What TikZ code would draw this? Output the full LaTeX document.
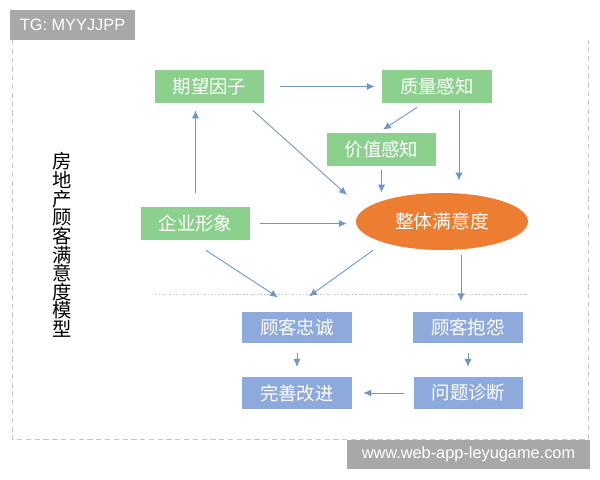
\documentclass[tikz,border=0pt]{standalone}
\usepackage{fontspec}
\setmainfont{Liberation Sans}
\newfontfamily\cjk{Noto Sans CJK SC}
\usetikzlibrary{arrows.meta, calc, shapes.geometric}
\definecolor{boxgreen}{RGB}{140,208,142}
\definecolor{boxblue}{RGB}{142,169,219}
\definecolor{satorange}{RGB}{237,125,49}
\definecolor{arrowblue}{RGB}{112,150,198}
\definecolor{tagGray}{RGB}{168,168,168}
\definecolor{frameGray}{RGB}{200,200,200}

\tikzset{
  gbox/.style={fill=boxgreen, text=white, minimum width=2.2cm, minimum height=0.66cm, inner sep=0pt, font=\cjk\fontsize{10.5}{12}\selectfont},
  bbox/.style={gbox, fill=boxblue, minimum height=0.63cm},
  arr/.style={arrowblue, line width=0.5pt, -{Latex[length=4.5pt,width=4pt]}},
  tag/.style={fill=tagGray, text=white, inner sep=0pt, font=\fontsize{9.3}{11}\selectfont},
}

\begin{document}
\begin{tikzpicture}[x=0.02cm, y=-0.02cm]
    \useasboundingbox (0,0) rectangle (600,480);
    
    \draw[frameGray, line width=0.4pt, dash pattern=on 3pt off 2pt] (12,40) -- (12,439) -- (588,439) -- (588,40);
    \draw[frameGray, line width=0.5pt, dash pattern=on 1pt off 1pt] (155,294) -- (528,294);
    
    \node[tag, minimum width=2.5cm, minimum height=0.6cm] (tg) at (72.5,25) {TG: MYYJJPP};
    \node[tag, minimum width=4.86cm, minimum height=0.58cm] (site) at (468.5,454.5) {www.web-app-leyugame.com};
    
    \node[font=\cjk\fontsize{11}{10.6}\selectfont, align=center, inner sep=0pt] (title) at (62.5,245) {房\\地\\产\\顾\\客\\满\\意\\度\\模\\型};
    
    \node[gbox] (qwyz) at (209.5,86.5) {期望因子};
    \node[gbox] (zlgz) at (437,86.5) {质量感知};
    \node[gbox] (jzgz) at (381.5,149.5) {价值感知};
    \node[gbox] (qyxx) at (195.5,223.5) {企业形象};
    \node[ellipse, fill=satorange, text=white, minimum width=3.44cm, minimum height=1.14cm, inner sep=0pt, font=\cjk\fontsize{10.7}{12}\selectfont] (ztmy) at (442,221.5) {整体满意度};
    \node[bbox] (gkzc) at (297,327.5) {顾客忠诚};
    \node[bbox] (gkby) at (468,327.5) {顾客抱怨};
    \node[bbox] (wsgj) at (297,393) {完善改进};
    \node[bbox] (wtzd) at (468.5,393) {问题诊断};
    \coordinate (zlgzr) at ($(zlgz.south)+(22,0)$);
    
    \draw[arr, shorten <=0.3cm, shorten >=0.14cm] (qwyz.east) -- (zlgz.west);
    \draw[arr, shorten <=0.28cm, shorten >=0.14cm] (qyxx.north) -- (qyxx.north |- qwyz.south);
    \draw[arr] ($(qwyz.south east)+(-12,7)$) -- ($(ztmy.center)+(-95,-26.5)$);
    \draw[arr] ($(zlgz.south)+(-20,4)$) -- ($(jzgz.north)+(1.5,-3)$);
    \draw[arr, shorten <=0.08cm] (jzgz.south) -- (jzgz.south |- ztmy.north);
    \draw[arr, shorten <=0.14cm, shorten >=0.24cm] (zlgzr) -- (zlgzr |- ztmy.north);
    \draw[arr, shorten <=0.18cm, shorten >=0.18cm] (qyxx.east) -- (qyxx.east -| ztmy.west);
    \draw[arr] ($(qyxx.south)+(10.5,10)$) -- ($(gkzc.north)+(-19,-14)$);
    \draw[arr] ($(ztmy.south)+(-69,0)$) -- ($(gkzc.north)+(12,-15)$);
    \draw[arr] ($(ztmy.south)+(19,5)$) -- ($(gkby.north)+(-7,-10)$);
    \draw[arr, shorten <=0.18cm, shorten >=0.2cm] (gkzc.south) -- (wsgj.north);
    \draw[arr, shorten <=0.18cm, shorten >=0.2cm] (gkby.south) -- (gkby.south |- wtzd.north);
    \draw[arr, shorten <=0.18cm, shorten >=0.22cm] (wtzd.west) -- (wtzd.west -| wsgj.east);
    
\end{tikzpicture}
\end{document}
